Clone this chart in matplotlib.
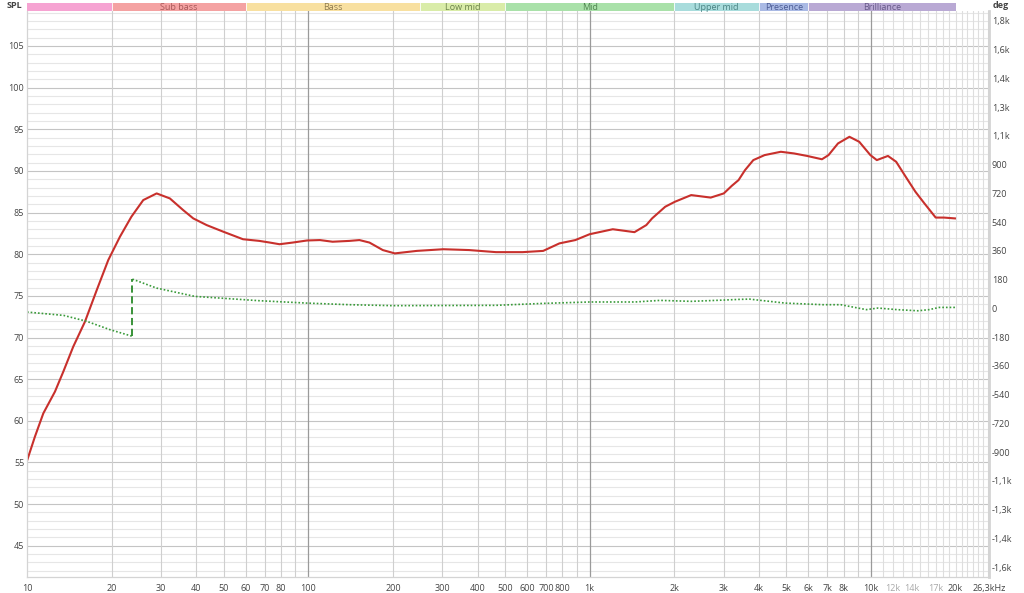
import numpy as np
import matplotlib
matplotlib.use("Agg")
import matplotlib.pyplot as plt
from matplotlib.ticker import FixedLocator, NullFormatter

plt.rcParams['font.family'] = ['Open Sans', 'DejaVu Sans']

# SPL response (Hz, dB)
spl_freq = [10, 10.67, 11.43, 12.57, 13.46, 14.6, 16.07, 17.7, 19.45, 21.4, 23.5,
            25.9, 28.9, 32.2, 35.9, 39, 43.5, 49.9, 58.6, 67, 73, 79, 88, 99, 110,
            122, 140, 152, 165, 184, 203, 243, 302, 373, 465, 578, 684, 781, 890,
            1000, 1209, 1444, 1591, 1668, 1857, 2011, 2297, 2695, 3000, 3200, 3385,
            3570, 3820, 4190, 4785, 5330, 5935, 6700, 7070, 7640, 8390, 9090, 9960,
            10500, 11500, 12300, 13300, 14400, 15500, 17000, 18200, 19900]
spl_db = [55.2, 58.1, 60.9, 63.5, 65.9, 68.9, 71.9, 75.7, 79.3, 82.1, 84.5,
          86.5, 87.3, 86.7, 85.3, 84.3, 83.5, 82.7, 81.8, 81.6, 81.4, 81.2, 81.4, 81.65, 81.7,
          81.5, 81.6, 81.7, 81.4, 80.5, 80.1, 80.4, 80.6, 80.5, 80.25, 80.25, 80.4, 81.3, 81.7,
          82.4, 83.0, 82.65, 83.5, 84.3, 85.7, 86.3, 87.1, 86.8, 87.3, 88.2, 88.9,
          90.1, 91.3, 91.9, 92.3, 92.1, 91.8, 91.4, 91.9, 93.3, 94.1, 93.5, 91.9,
          91.3, 91.8, 91.1, 89.3, 87.5, 86.1, 84.4, 84.4, 84.3]

# phase (Hz, degrees) - wraps at ~23.7 Hz
ph_freq = [10, 13.5, 16.3, 19.7, 23.7, 23.7, 28.9, 39.5, 67, 99, 140, 200, 465,
           680, 1000, 1450, 1780, 2300, 3000, 3370, 3700, 4960, 6750, 7810, 9640,
           10600, 12400, 14700, 16100, 17500, 19900]
ph_deg = [-23, -44, -81, -133, -175, 183, 127, 75, 48, 33, 23, 17, 19,
          31, 40, 40, 50, 44, 52, 56, 58, 33, 23, 23, -8,
          2, -8, -15, -8, 6, 6]

bands = [("", 10, 20, "#f6a3d2", "#b05a88"),
         ("Sub bass", 20, 60, "#f4a2a2", "#a85858"),
         ("Bass", 60, 250, "#f8e0a0", "#8f7c50"),
         ("Low mid", 250, 500, "#d9eca8", "#6a8248"),
         ("Mid", 500, 2000, "#a9e1a9", "#4f844f"),
         ("Upper mid", 2000, 4000, "#a8dcdc", "#4a8484"),
         ("Presence", 4000, 6000, "#a9b9e4", "#4a5a94"),
         ("Brilliance", 6000, 20000, "#b9a9d4", "#665888")]

xticks = [10, 20, 30, 40, 50, 60, 70, 80, 100, 200, 300, 400, 500, 600, 700, 800,
          1000, 2000, 3000, 4000, 5000, 6000, 7000, 8000, 10000, 12000, 14000,
          17000, 20000, 26300]
xlabels = ["10", "20", "30", "40", "50", "60", "70", "80", "100", "200", "300", "400",
           "500", "600", "700", "800", "1k", "2k", "3k", "4k", "5k", "6k", "7k", "8k",
           "10k", "12k", "14k", "17k", "20k", "26,3kHz"]

W, H = 1024, 593
fig = plt.figure(figsize=(W / 100, H / 100), dpi=100)
x0, x1 = 27, 989
ytop, ybot = 11, 577
ax = fig.add_axes([x0 / W, 1 - ybot / H, (x1 - x0) / W, (ybot - ytop) / H])
ax.set_xscale("log")
ax.set_xlim(10, 26300)
ax.set_ylim(41.25, 109.2)

txt = "#444444"
# grid
for v in range(42, 110):
    c = "#c4c4c4" if v % 5 == 0 else "#e6e6e6"
    ax.axhline(v, color=c, lw=0.8, zorder=0)
vlines = [m * 10 ** d for d in (1, 2, 3) for m in range(2, 10)]
for f in vlines:
    ax.axvline(f, color="#cfcfcf", lw=0.8, zorder=0)
for f in range(11000, 27000, 1000):
    ax.axvline(f, color="#dedede", lw=0.8, zorder=0)
for f in (100, 1000, 10000):
    ax.axvline(f, color="#9a9a9a", lw=0.9, zorder=0)

ax.plot(spl_freq, spl_db, color="#c8302c", lw=1.5, zorder=3,
        solid_joinstyle="round")

# phase on twin axis
ax2 = ax.twinx()
ax2.set_ylim(-1682, 1862)
pf = np.array(ph_freq)
pd_ = np.array(ph_deg)
k = int(np.argmax(np.abs(np.diff(pd_)) > 180)) + 1
ax2.plot(pf[:k], pd_[:k], color="#3a9a3a", lw=1.2, ls=(0, (1, 1.2)), zorder=2)
ax2.plot(pf[k:], pd_[k:], color="#3a9a3a", lw=1.2, ls=(0, (1, 1.2)), zorder=2)
ax2.plot(pf[k - 1:k + 1], pd_[k - 1:k + 1], color="#2a8a2a", lw=1.3, ls=(0, (4, 2)), zorder=2)


def deg_fmt(v):
    if abs(v) >= 1000:
        return f"{v / 1000:.1f}k".replace(".", ",")
    return f"{v:.0f}"


dticks = list(range(-1620, 1801, 180))
ax2.yaxis.set_major_locator(FixedLocator(dticks))
ax2.set_yticklabels([deg_fmt(v) for v in dticks])
ax2.tick_params(axis="y", length=0, pad=2, labelsize=6.5, colors=txt)

ax.set_yticks(range(45, 106, 5))
ax.tick_params(axis="y", length=0, pad=2, labelsize=6.5, colors=txt)
ax.xaxis.set_major_locator(FixedLocator(xticks))
ax.set_xticklabels(xlabels)
ax.xaxis.set_minor_formatter(NullFormatter())
ax.tick_params(axis="x", which="both", length=0, pad=5, labelsize=6.5, colors=txt)
for lab, t in zip(ax.get_xticklabels(), xticks):
    if t in (12000, 14000, 17000):
        lab.set_color("#a8a8a8")

for a in (ax, ax2):
    for s in a.spines.values():
        s.set_color("#d4d4d4")
        s.set_linewidth(0.8)
ax.spines["top"].set_visible(False)
ax2.spines["top"].set_visible(False)
ax2.spines["right"].set_linewidth(2)

# frequency band strip
bx = fig.add_axes([x0 / W, 1 - 11 / H, (x1 - x0) / W, 8.5 / H])
bx.set_xscale("log")
bx.set_xlim(10, 26300)
bx.set_ylim(0, 1)
bx.axis("off")
for name, lo, hi, col, tcol in bands:
    bx.axvspan(lo, hi, color=col, lw=0)
    bx.axvline(hi, color="white", lw=0.6)
    if name:
        bx.text(np.sqrt(lo * hi), 0.45, name, ha="center", va="center",
                fontsize=6.5, color=tcol)

fig.text(14 / W, 1 - 6 / H, "SPL", ha="center", va="center", fontsize=6.5,
         color=txt, fontweight="bold")
fig.text(1001 / W, 1 - 6 / H, "deg", ha="center", va="center", fontsize=6.5,
         color=txt, fontweight="bold")

fig.savefig("out.png", dpi=100, facecolor="white")
